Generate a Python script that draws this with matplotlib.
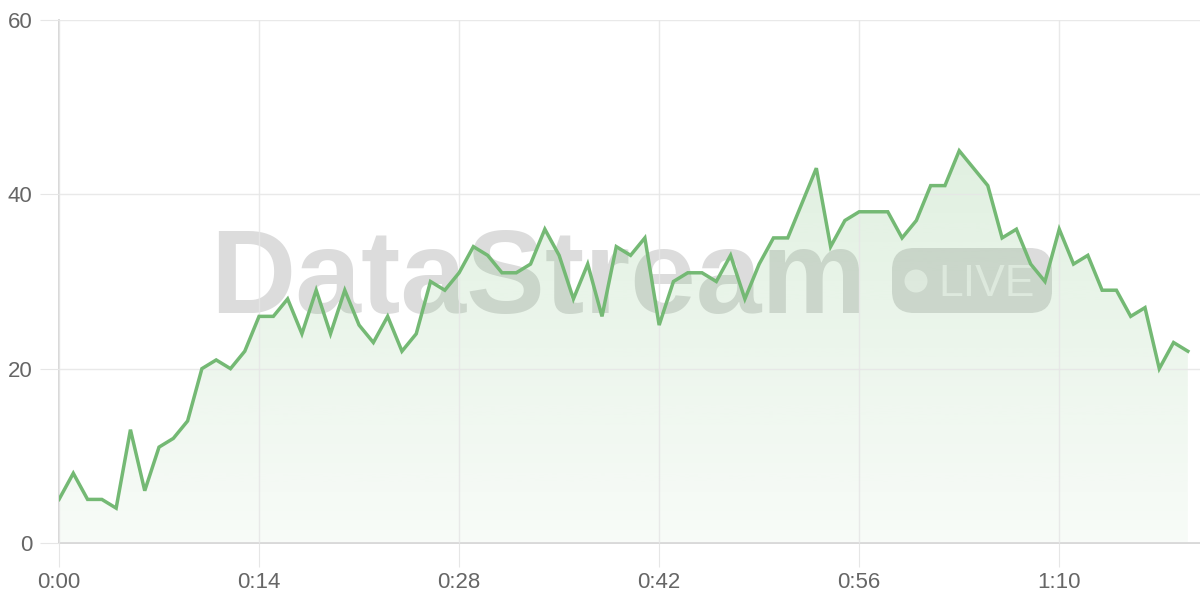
import matplotlib

matplotlib.use("Agg")
import matplotlib.pyplot as plt
import numpy as np
from matplotlib.patches import FancyBboxPatch, Circle

values = [5, 8, 5, 5, 4, 13, 6, 11, 12, 14,
          20, 21, 20, 22, 26, 26, 28, 24, 29, 24,
          29, 25, 23, 26, 22, 24, 30, 29, 31, 34,
          33, 31, 31, 32, 36, 33, 28, 32, 26, 34,
          33, 35, 25, 30, 31, 31, 30, 33, 28, 32,
          35, 35, 39, 43, 34, 37, 38, 38, 38, 35,
          37, 41, 41, 45, 43, 41, 35, 36, 32, 30,
          36, 32, 33, 29, 29, 26, 27, 20, 23, 22]
x_ticks = [0, 14, 28, 42, 56, 70]
x_tick_labels = ["0:00", "0:14", "0:28", "0:42", "0:56", "1:10"]
y_ticks = [0, 20, 40, 60]

LINE = "#74b974"
GRID = "#e6e6e6"
TEXT = "#666666"
MARK = "#dcdcdc"

x = np.arange(len(values))
y = np.array(values, dtype=float)

fig = plt.figure(figsize=(12, 6), dpi=100)

# watermark layer sits behind the chart, in pixel coordinates
bg = fig.add_axes([0, 0, 1, 1], zorder=0)
bg.set_xlim(0, 1200)
bg.set_ylim(600, 0)
bg.axis("off")
bg.text(210, 313, "DataStream", fontsize=85, fontweight="bold",
        family="Liberation Sans", color=MARK, ha="left", va="baseline")
bg.add_patch(FancyBboxPatch((892, 248), 160, 65,
                            boxstyle="round,pad=0,rounding_size=22",
                            facecolor=MARK, edgecolor="none"))
bg.add_patch(Circle((916, 281), 11.5, facecolor="#f2f2f2", edgecolor="none"))
bg.text(938, 296, "LIVE", fontsize=32, family="Liberation Sans",
        color="#f2f2f2", ha="left", va="baseline")

ax = fig.add_axes([59 / 1200, 57 / 600, 1 - 59 / 1200, 523 / 600], zorder=1)
ax.patch.set_visible(False)
ax.set_xlim(0, 79.85)
ax.set_ylim(0, 60)

# gradient fill under the line
poly = ax.fill_between(x, y, 0, color="none", linewidth=0)
grad = np.zeros((256, 1, 4))
grad[:, 0, 0:3] = matplotlib.colors.to_rgb("#6cb86c")
grad[:, 0, 3] = np.linspace(0.05, 0.21, 256)
img = ax.imshow(grad, extent=[0, x[-1], 0, y.max()], origin="lower",
                aspect="auto", zorder=1)
img.set_clip_path(poly.get_paths()[0], transform=ax.transData)

ax.plot(x, y, color=LINE, linewidth=2.5, solid_joinstyle="miter", zorder=4)

ax.set_xticks(x_ticks)
ax.set_xticklabels(x_tick_labels)
ax.set_yticks(y_ticks)
ax.grid(True, color=GRID, linewidth=1, alpha=0.85)
ax.set_axisbelow(False)
ax.tick_params(axis="both", length=14, color=GRID, labelcolor=TEXT,
               labelsize=16, pad=5)
ax.tick_params(axis="x", length=17, pad=4)
for label in ax.get_xticklabels() + ax.get_yticklabels():
    label.set_family("Liberation Sans")
for side in ["top", "right"]:
    ax.spines[side].set_visible(False)
ax.spines["left"].set_color("#d6d6d6")
ax.spines["bottom"].set_color("#d6d6d6")
ax.spines["left"].set_linewidth(1.3)
ax.spines["bottom"].set_linewidth(1.3)

fig.savefig("out.png", dpi=100)
